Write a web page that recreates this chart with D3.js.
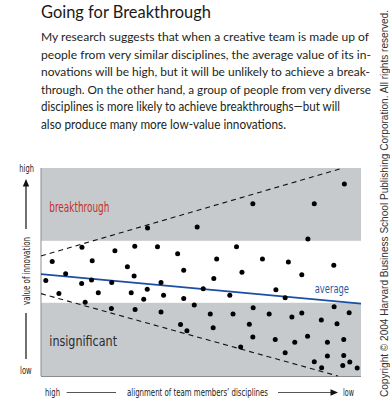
<!DOCTYPE html>
<html><head><meta charset="utf-8">
<script src="https://cdn.jsdelivr.net/npm/d3@7"></script>
<style>
html,body{margin:0;padding:0;background:#fff;}
svg{display:block;}
</style></head>
<body>
<svg id="c" width="390" height="407"></svg>
<script>
// ---------------- DATA ----------------
const titleText = "Going for Breakthrough";
const paragraphLines = [
  "My research suggests that when a creative team is made up of",
  "people from very similar disciplines, the average value of its in-",
  "novations will be high, but it will be unlikely to achieve a break-",
  "through. On the other hand, a group of people from very diverse",
  "disciplines is more likely to achieve breakthroughs\u2014but will",
  "also produce many more low-value innovations."
];
const paragraphWidths = [328, 330, 329, 330, 299, 245];
const copyrightText = "Copyright \u00A9 2004 Harvard Business School Publishing Corporation. All rights reserved.";
const yTickLabels = ["high", "low"];
const xTickLabels = ["high", "low"];
const yAxisTitle = "value of innovation";
const xAxisTitle = "alignment of team members\u2019 disciplines";
const zoneLabels = ["breakthrough", "insignificant"];
const averageLabel = "average";
// shaded zones [from, to] on the value scale (0..100)
const breakthroughZone = [65.0, 100];
const insignificantZone = [0, 35.2];
// boundary lines: [diversity, value] end points
const upperBound = [[0, 57.7], [94.4, 100]];
const lowerBound = [[0, 39.6], [92.8, 0]];
const averageLine = [[0, 49.0], [100, 34.8]];
// innovations: diversity of disciplines (0 = aligned, 100 = diverse) and value (0..100)
const diversity = [
  33.3, 12.8, 23.1, 29.3, 3.5, 16.0, 27.0, 7.7, 48.8, 66.2,
  36.4, 42.7, 61.1, 54.9, 44.6, 62.8, 85.4, 94.8, 83.4, 69.2,
  77.3, 91.5, 81.5, 1.5, 12.7, 15.8, 22.1, 29.1, 5.6, 17.9,
  28.2, 33.2, 32.1, 13.8, 22.0, 29.4, 54.0, 37.5, 38.3, 44.6,
  50.7, 59.0, 47.9, 37.5, 52.9, 60.0, 66.3, 43.6, 45.6, 53.8,
  65.1, 66.2, 62.4, 73.4, 76.3, 71.3, 78.4, 81.5, 91.6, 96.3,
  87.6, 92.5, 73.2, 79.3, 83.3, 89.5, 94.6, 76.3, 85.4, 89.5,
  94.6, 96.5, 94.3, 87.7, 98.8
];
const innovationValue = [
  71.2, 61.9, 60.2, 62.4, 55.1, 55.4, 52.5, 49.2, 71.6, 82.8,
  62.1, 58.8, 62.1, 56.2, 50.8, 49.9, 82.8, 92.3, 65.9, 56.3,
  54.8, 53.3, 48.7, 45.9, 44.5, 46.2, 44.9, 48.1, 39.7, 40.0,
  40.0, 41.7, 36.9, 35.5, 32.4, 32.0, 46.9, 44.9, 38.8, 37.2,
  42.0, 38.8, 34.1, 30.8, 29.8, 29.8, 32.8, 24.8, 21.7, 23.2,
  24.9, 18.8, 13.9, 41.5, 37.6, 29.8, 28.4, 30.3, 33.3, 30.4,
  26.9, 25.1, 17.5, 16.2, 19.1, 16.2, 17.5, 11.2, 6.9, 9.6,
  9.8, 6.7, 5.0, 4.0, 3.8
];

// ---------------- DRAW ----------------
const svg = d3.select("#c");
const textFont = "Lato,'Noto Sans',sans-serif";
const narrowFont = "'Liberation Sans Narrow','DejaVu Sans Condensed','Roboto',sans-serif";

const x = d3.scaleLinear().domain([0, 100]).range([41, 361]);
const y = d3.scaleLinear().domain([0, 100]).range([376, 168]);

// title
svg.append("text").attr("x", 41).attr("y", 17.5)
  .attr("font-family", textFont).attr("font-size", 16.5).attr("fill", "#1a1a1a")
  .attr("textLength", 170).attr("lengthAdjust", "spacingAndGlyphs")
  .text(titleText);

// paragraph (font size kept so that each line's natural width stays inside the page)
const baseFs = 12.6;
const para = svg.append("g").selectAll("text").data(paragraphLines).join("text")
  .attr("x", 41).attr("y", (d, i) => 41 + i * 17.6)
  .attr("font-family", textFont).attr("font-size", baseFs).attr("fill", "#231f20")
  .text(d => d);
para.each(function (d, i) {
  const nat = this.getComputedTextLength();
  const fs = Math.min(baseFs, baseFs * 336 / nat);
  d3.select(this).attr("font-size", fs)
    .attr("textLength", paragraphWidths[i]).attr("lengthAdjust", "spacingAndGlyphs");
});

// copyright
svg.append("text").attr("transform", "translate(387.5,397) rotate(-90)")
  .attr("font-family", "'Liberation Sans','DejaVu Sans',sans-serif").attr("font-size", 10.2).attr("fill", "#333")
  .attr("textLength", 387).attr("lengthAdjust", "spacingAndGlyphs")
  .text(copyrightText);

// zones
const zoneFill = "#c6cacd";
svg.append("g").selectAll("rect").data([breakthroughZone, insignificantZone]).join("rect")
  .attr("x", x(0)).attr("width", x(100) - x(0))
  .attr("y", d => y(d[1])).attr("height", d => y(d[0]) - y(d[1]))
  .attr("fill", zoneFill);

// plot frame (left and bottom)
svg.append("line").attr("x1", x(0)).attr("x2", x(0)).attr("y1", y(100)).attr("y2", y(0))
  .attr("stroke", "#8a8d90").attr("stroke-width", 1);
svg.append("line").attr("x1", x(0)).attr("x2", x(100)).attr("y1", y(0) + 0.5).attr("y2", y(0) + 0.5)
  .attr("stroke", "#8a8d90").attr("stroke-width", 1);

const line = d3.line().x(d => x(d[0])).y(d => y(d[1]));
// dashed boundaries
svg.append("g").selectAll("path").data([upperBound, lowerBound]).join("path")
  .attr("d", line).attr("fill", "none").attr("stroke", "#111")
  .attr("stroke-width", 1.1).attr("stroke-dasharray", "5,4");

// average line
svg.append("path").attr("d", line(averageLine)).attr("fill", "none")
  .attr("stroke", "#1b4fa3").attr("stroke-width", 1.6);

// dots
svg.append("g").selectAll("circle").data(diversity).join("circle")
  .attr("cx", d => x(d)).attr("cy", (d, i) => y(innovationValue[i])).attr("r", 2.5)
  .attr("fill", "#000");

// zone labels
svg.append("text").attr("x", 49.3).attr("y", 211.5)
  .attr("font-family", narrowFont).attr("font-size", 14).attr("fill", "#c0312b")
  .attr("textLength", 60).attr("lengthAdjust", "spacingAndGlyphs")
  .text(zoneLabels[0]);
svg.append("text").attr("x", 49.3).attr("y", 345.5)
  .attr("font-family", narrowFont).attr("font-size", 14).attr("fill", "#2a2a2a")
  .attr("textLength", 67.7).attr("lengthAdjust", "spacingAndGlyphs")
  .text(zoneLabels[1]);
svg.append("text").attr("x", 314.7).attr("y", 293)
  .attr("font-family", narrowFont).attr("font-size", 12.5).attr("fill", "#1f5aa8")
  .attr("textLength", 34.3).attr("lengthAdjust", "spacingAndGlyphs")
  .text(averageLabel);

// y axis labels
const axisFont = 10.5;
svg.append("text").attr("x", 19.3).attr("y", 172)
  .attr("font-family", narrowFont).attr("font-size", axisFont).attr("fill", "#222")
  .attr("textLength", 14.7).attr("lengthAdjust", "spacingAndGlyphs").text(yTickLabels[0]);
svg.append("text").attr("x", 20).attr("y", 374)
  .attr("font-family", narrowFont).attr("font-size", axisFont).attr("fill", "#222")
  .attr("textLength", 11.7).attr("lengthAdjust", "spacingAndGlyphs").text(yTickLabels[1]);
svg.append("text").attr("transform", "translate(29.8,271) rotate(-90)")
  .attr("text-anchor", "middle")
  .attr("font-family", narrowFont).attr("font-size", axisFont).attr("fill", "#222")
  .attr("textLength", 68).attr("lengthAdjust", "spacingAndGlyphs").text(yAxisTitle);
svg.append("line").attr("x1", 26).attr("x2", 26).attr("y1", 229).attr("y2", 185)
  .attr("stroke", "#111").attr("stroke-width", 1.2);
svg.append("path").attr("d", "M26,179 L22.8,186.5 L29.2,186.5 Z").attr("fill", "#111");
svg.append("line").attr("x1", 26).attr("x2", 26).attr("y1", 313).attr("y2", 359)
  .attr("stroke", "#111").attr("stroke-width", 1.2);

// x axis labels
svg.append("text").attr("x", 45).attr("y", 395.5)
  .attr("font-family", narrowFont).attr("font-size", axisFont).attr("fill", "#222")
  .attr("textLength", 15).attr("lengthAdjust", "spacingAndGlyphs").text(xTickLabels[0]);
svg.append("text").attr("x", 343).attr("y", 395.5)
  .attr("font-family", narrowFont).attr("font-size", axisFont).attr("fill", "#222")
  .attr("textLength", 11).attr("lengthAdjust", "spacingAndGlyphs").text(xTickLabels[1]);
svg.append("text").attr("x", 127).attr("y", 395.5)
  .attr("font-family", narrowFont).attr("font-size", axisFont).attr("fill", "#222")
  .attr("textLength", 141).attr("lengthAdjust", "spacingAndGlyphs").text(xAxisTitle);
svg.append("line").attr("x1", 66.7).attr("x2", 116).attr("y1", 392.5).attr("y2", 392.5)
  .attr("stroke", "#555").attr("stroke-width", 1.1);
svg.append("line").attr("x1", 278).attr("x2", 332).attr("y1", 392.5).attr("y2", 392.5)
  .attr("stroke", "#555").attr("stroke-width", 1.1);
svg.append("path").attr("d", "M338,392.5 L330.5,389.3 L330.5,395.7 Z").attr("fill", "#111");
</script>
</body></html>
